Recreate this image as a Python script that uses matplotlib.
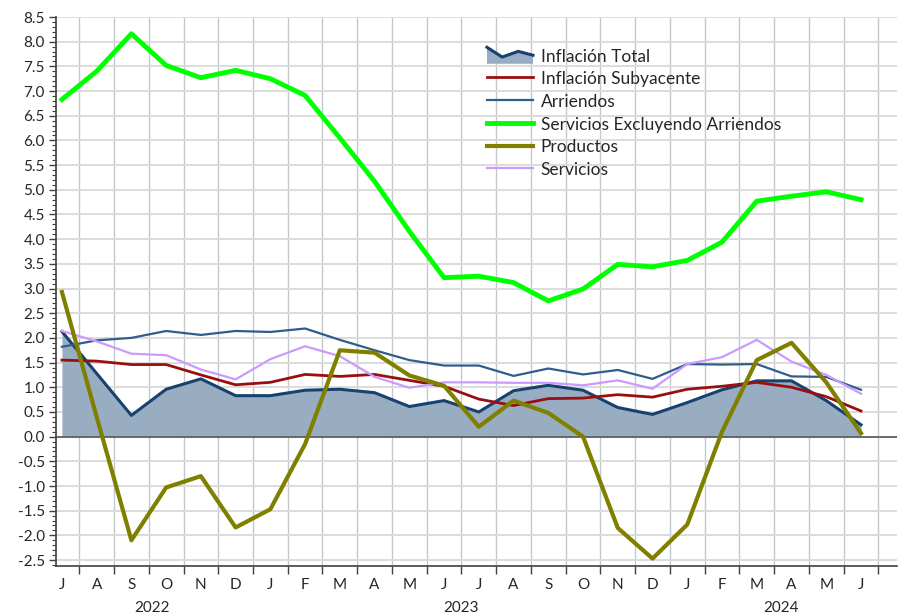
import matplotlib
matplotlib.use('Agg')
import matplotlib.pyplot as plt
import numpy as np
from matplotlib.legend_handler import HandlerBase
from matplotlib.patches import Polygon
from matplotlib.lines import Line2D
from matplotlib.ticker import MultipleLocator, FixedLocator, FormatStrFormatter
import matplotlib.transforms as mtransforms

plt.rcParams['font.family'] = ['Lato', 'DejaVu Sans']
plt.rcParams['axes.unicode_minus'] = False

# monthly data, Jul 2022 .. Jun 2024
month_labels = ['J', 'A', 'S', 'O', 'N', 'D',
                'J', 'F', 'M', 'A', 'M', 'J', 'J', 'A', 'S', 'O', 'N', 'D',
                'J', 'F', 'M', 'A', 'M', 'J']
years = ['2022', '2023', '2024']
year_centers = [2.6, 11.5, 20.7]

inflacion_total = [2.13, 1.28, 0.43, 0.96, 1.17, 0.83, 0.83, 0.94, 0.96, 0.89, 0.61, 0.73,
                   0.50, 0.93, 1.04, 0.94, 0.59, 0.45, 0.69, 0.95, 1.13, 1.13, 0.73, 0.24]
subyacente = [1.55, 1.53, 1.46, 1.46, 1.25, 1.05, 1.10, 1.26, 1.22, 1.26, 1.14, 1.02,
              0.76, 0.63, 0.77, 0.78, 0.85, 0.80, 0.96, 1.02, 1.10, 1.00, 0.81, 0.52]
arriendos = [1.82, 1.95, 2.00, 2.14, 2.06, 2.14, 2.12, 2.19, 1.96, 1.75, 1.55, 1.44,
             1.44, 1.23, 1.38, 1.26, 1.35, 1.17, 1.47, 1.46, 1.47, 1.22, 1.21, 0.95]
servicios_ex_arriendos = [6.83, 7.40, 8.16, 7.52, 7.27, 7.42, 7.25, 6.91, 6.05, 5.17, 4.16, 3.22,
                          3.25, 3.12, 2.75, 2.99, 3.49, 3.44, 3.57, 3.94, 4.77, 4.87, 4.96, 4.80]
productos = [2.93, 0.40, -2.10, -1.03, -0.80, -1.84, -1.47, -0.15, 1.75, 1.70, 1.24, 1.03,
             0.20, 0.73, 0.48, 0.00, -1.85, -2.47, -1.78, 0.10, 1.55, 1.90, 1.10, 0.07]
servicios = [2.14, 1.93, 1.68, 1.65, 1.36, 1.16, 1.57, 1.83, 1.63, 1.21, 0.99, 1.10,
             1.10, 1.09, 1.09, 1.04, 1.14, 0.97, 1.47, 1.61, 1.96, 1.52, 1.25, 0.87]

C_AREA = '#98adc2'
C_TOTAL = '#17426e'
C_SUB = '#990f0f'
C_ARR = '#2f5d8c'
C_GREEN = '#00ff00'
C_OLIVE = '#808000'
C_LILAC = '#cc99ff'


class AreaLineHandler(HandlerBase):
    # zigzag line over a shaded area, like the Excel area-series legend key
    def create_artists(self, legend, orig_handle, xdescent, ydescent,
                       width, height, fontsize, trans):
        xs = np.array([0.0, 0.33, 0.68, 1.0]) * width - xdescent
        ys = np.array([1.05, 0.4, 0.78, 0.52]) * height - ydescent
        bottom = -ydescent - 0.05 * height
        pts = list(zip(xs, ys)) + [(xs[-1], bottom), (xs[0], bottom)]
        poly = Polygon(pts, closed=True, facecolor=C_AREA, edgecolor='none', transform=trans)
        line = Line2D(xs, ys, color=C_TOTAL, lw=2.2, transform=trans)
        return [poly, line]


x = np.arange(len(month_labels))

fig = plt.figure(figsize=(8.99, 6.16), dpi=100)
ax = fig.add_axes([0.0623, 0.0812, 0.936, 0.8912])

area = ax.fill_between(x, 0, inflacion_total, color=C_AREA, lw=0, zorder=2)
ax.plot(x, inflacion_total, color=C_TOTAL, lw=2.2, zorder=3)
l_sub, = ax.plot(x, subyacente, color=C_SUB, lw=2, zorder=4)
l_arr, = ax.plot(x, arriendos, color=C_ARR, lw=1.6, zorder=4)
l_grn, = ax.plot(x, servicios_ex_arriendos, color=C_GREEN, lw=3.5, zorder=5)
l_lil, = ax.plot(x, servicios, color=C_LILAC, lw=1.6, zorder=5)
l_olv, = ax.plot(x, productos, color=C_OLIVE, lw=3, zorder=6)

ax.axhline(0, color='#595959', lw=1.2, zorder=2.5)

ax.set_xlim(-0.17, 24.05)
ax.set_ylim(-2.62, 8.5)

# y axis
ax.yaxis.set_major_locator(MultipleLocator(0.5))
ax.yaxis.set_minor_locator(MultipleLocator(0.1))
ax.yaxis.set_major_formatter(FormatStrFormatter('%.1f'))
ax.tick_params(axis='y', which='major', length=5, width=1, color='#404040',
               labelsize=11, labelcolor='#262626', pad=3)
ax.tick_params(axis='y', which='minor', length=3, width=0.8, color='#404040')

# x axis: month labels at data points, tick marks/grid between months
ax.xaxis.set_major_locator(FixedLocator(x))
ax.set_xticklabels(month_labels)
ax.xaxis.set_minor_locator(FixedLocator(np.arange(len(month_labels)) + 0.5))
ax.tick_params(axis='x', which='major', length=0, labelsize=11, labelcolor='#262626', pad=9)
ax.tick_params(axis='x', which='minor', length=6, width=1, color='#404040')

ax.grid(axis='y', which='major', color='#dcdcdc', lw=1.4, zorder=0)
ax.grid(axis='x', which='minor', color='#c3c8cc', lw=1.0, zorder=0)
ax.set_axisbelow(True)

for side in ['top', 'right']:
    ax.spines[side].set_visible(False)
for side in ['left', 'bottom']:
    ax.spines[side].set_color('#404040')
    ax.spines[side].set_linewidth(1.2)

trans = mtransforms.blended_transform_factory(ax.transData, ax.transAxes)
for yr, xc in zip(years, year_centers):
    ax.text(xc, -0.077, yr, transform=trans, ha='center', va='center',
            fontsize=11, color='#262626')

handles = [area, l_sub, l_arr, l_grn, l_olv, l_lil]
labels = ['Inflación Total', 'Inflación Subyacente', 'Arriendos',
          'Servicios Excluyendo Arriendos', 'Productos', 'Servicios']
leg = ax.legend(handles, labels, loc='upper left',
                bbox_to_anchor=(0.5417, 0.922), bbox_transform=fig.transFigure,
                frameon=False, fontsize=12.5, handlelength=2.65, handleheight=0.95,
                handletextpad=0.45, labelspacing=0.36, borderpad=0, borderaxespad=0,
                handler_map={area: AreaLineHandler()})
for t in leg.get_texts():
    t.set_color('#262626')

plt.savefig('out.png', dpi=100)
plt.close('all')
